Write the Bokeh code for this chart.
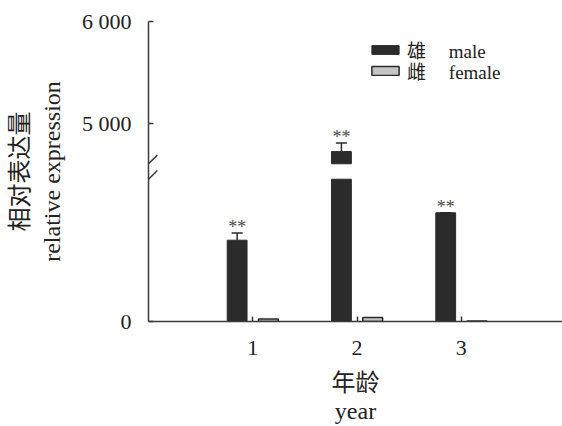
import numpy as np
from bokeh.plotting import figure
from bokeh.models import (ColumnDataSource, Range1d, FixedTicker, Whisker, TeeHead,
                          Arrow, Legend, LegendItem)
from bokeh.core.properties import value
from bokeh.embed import file_html
from bokeh.resources import INLINE

# ---------------- data ----------------
years = [1, 2, 3]
year_labels = ["1", "2", "3"]
male = [800, 4720, 1070]
male_err = [70, 85, 0]
female = [25, 40, 5]
sig = ["**", "**", "**"]
series_labels = ["雄\u2003\u2009male", "雌\u2003\u2009female"]

y_ticks = [0, 5000, 6000]
y_tick_labels = ["0", "5 000", "6 000"]

# broken axis design
BREAK_LOW = 1400     # top of lower segment
BREAK_HIGH = 4600    # bottom of upper segment
Y_MAX = 6000
SEG = 1476           # data span shown in each half of the frame
OFFSET = Y_MAX - 2 * SEG   # lower value v is drawn at v + OFFSET on the main range

FONT = "'Liberation Serif', 'Noto Sans CJK SC'"
TXT = "#222222"
DARK = "#2b2b2b"
LIGHT = "#c4c4c4"
AX = "#3a3a3a"

p = figure(width=562, height=426, output_backend="svg", toolbar_location=None,
           x_range=Range1d(0, 3.97), y_range=Range1d(OFFSET, Y_MAX),
           min_border_left=148, min_border_right=0, min_border_top=21, min_border_bottom=105)
p.extra_y_ranges = {"low": Range1d(0, 2 * SEG)}
p.outline_line_color = None
p.grid.visible = False
p.background_fill_color = "white"
p.border_fill_color = "white"

xs = np.array(years, dtype=float)
m = np.array(male, dtype=float)
me = np.array(male_err, dtype=float)
f = np.array(female, dtype=float)
DX = 0.15
W = 0.19

# lower segment bars
low_src = ColumnDataSource(dict(x=xs - DX, top=np.minimum(m, BREAK_LOW)))
r_male = p.vbar(x="x", top="top", bottom=0, width=W, source=low_src, y_range_name="low",
                fill_color=DARK, line_color=DARK, line_width=1)
fem_src = ColumnDataSource(dict(x=xs + DX, top=np.minimum(f, BREAK_LOW)))
r_fem = p.vbar(x="x", top="top", bottom=0, width=W, source=fem_src, y_range_name="low",
               fill_color=LIGHT, line_color=DARK, line_width=1.5)

# upper segment bars
hi = m > BREAK_HIGH
hi_src = ColumnDataSource(dict(x=(xs - DX)[hi], top=m[hi]))
p.vbar(x="x", top="top", bottom=BREAK_HIGH, width=W, source=hi_src,
       fill_color=DARK, line_color=DARK, line_width=1)

# error bars + significance
lo = ~hi
err_lo = ColumnDataSource(dict(x=(xs - DX)[lo], lower=m[lo], upper=(m + me)[lo],
                               t=np.array(sig)[lo]))
err_hi = ColumnDataSource(dict(x=(xs - DX)[hi], lower=m[hi], upper=(m + me)[hi],
                               t=np.array(sig)[hi]))
for src, rn in ((err_lo, "low"), (err_hi, "default")):
    w = Whisker(base="x", lower="lower", upper="upper", source=src, dimension="height",
                line_color=DARK, line_width=1.5, lower_head=None,
                upper_head=TeeHead(size=11, line_color=DARK, line_width=1.5),
                y_range_name=rn)
    p.add_layout(w)
    p.text(x="x", y="upper", text="t", source=src, y_range_name=rn,
           text_font=value(FONT), text_font_size="18px", text_color="#4a4a4a",
           text_align="center", text_baseline="alphabetic", y_offset=-6)

# break marks on the y axis
p.add_layout(Arrow(x_start=-0.085, y_start=BREAK_HIGH - 85, x_end=0.085, y_end=BREAK_HIGH + 85,
                   start=None, end=None, line_color=AX, line_width=1.5))
p.add_layout(Arrow(x_start=-0.085, y_start=BREAK_LOW - 85, x_end=0.085, y_end=BREAK_LOW + 85,
                   start=None, end=None, line_color=AX, line_width=1.5, y_range_name="low"))

# axes
tick_pos = [t if t >= BREAK_HIGH else t + OFFSET for t in y_ticks]
ya = p.yaxis[0]
ya.ticker = FixedTicker(ticks=tick_pos)
ya.major_label_overrides = {tp: lab for tp, lab in zip(tick_pos, y_tick_labels)}
ya.minor_tick_line_color = None
ya.major_tick_in = 5
ya.major_tick_out = 0
ya.major_label_standoff = 17
ya.axis_label = "相对表达量\nrelative expression"
ya.axis_label_standoff = 14
ya.axis_label_text_line_height = 1.25

xa = p.xaxis[0]
xa.ticker = FixedTicker(ticks=years)
xa.major_label_overrides = {y: lab for y, lab in zip(years, year_labels)}
xa.minor_tick_line_color = None
xa.major_tick_in = 5
xa.major_tick_out = 0
xa.major_label_standoff = 19
xa.axis_label = "年龄\nyear"
xa.axis_label_standoff = 12
xa.axis_label_text_line_height = 1.08

for ax in (xa, ya):
    ax.axis_line_color = AX
    ax.axis_line_width = 1.5
    ax.major_tick_line_color = AX
    ax.major_tick_line_width = 1.5
    ax.major_label_text_font = FONT
    ax.major_label_text_font_size = "22px"
    ax.major_label_text_color = TXT
    ax.axis_label_text_font = FONT
    ax.axis_label_text_font_size = "24px"
    ax.axis_label_text_font_style = "normal"
    ax.axis_label_text_color = TXT

# legend: one box per entry for exact row spacing
for lab, rend, loc in ((series_labels[0], r_male, (220, 258)),
                       (series_labels[1], r_fem, (220, 237))):
    lg = Legend(items=[LegendItem(label=lab, renderers=[rend])],
                location=loc, padding=0, margin=0, spacing=0,
                glyph_width=34, glyph_height=11, label_height=21, label_standoff=5,
                border_line_alpha=0, background_fill_alpha=0,
                label_text_font=FONT, label_text_font_size="19px", label_text_color=TXT)
    p.add_layout(lg)

open("out.html", "w").write(file_html(p, INLINE))
